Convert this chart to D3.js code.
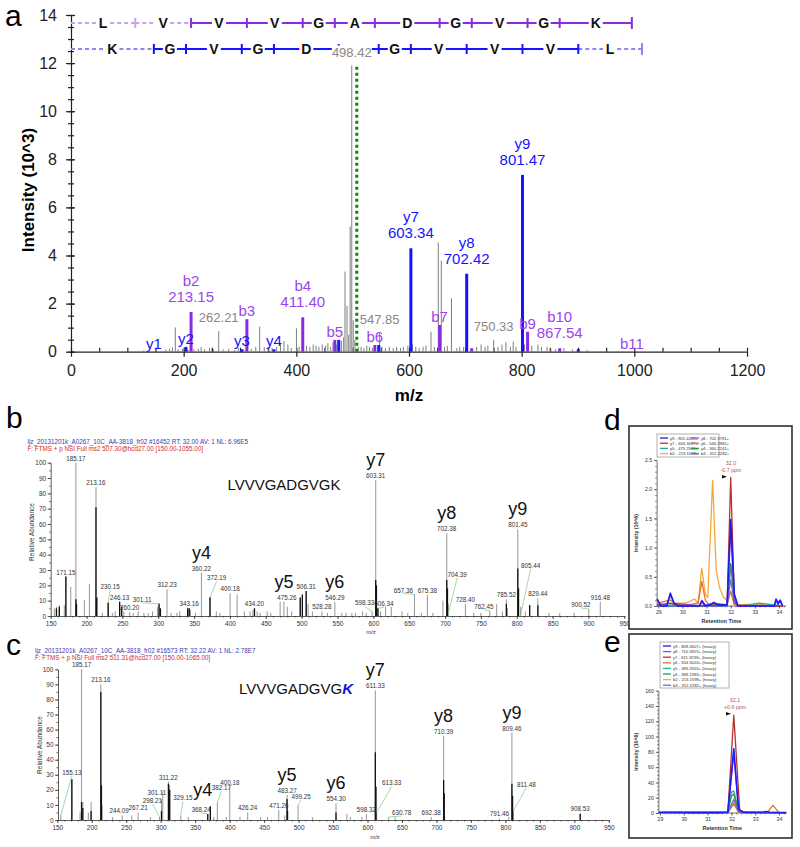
<!DOCTYPE html>
<html><head><meta charset="utf-8">
<script src="https://cdn.jsdelivr.net/npm/d3@7"></script>
<style>body{margin:0;background:#fff}svg{display:block}text{font-family:"Liberation Sans",Arial,sans-serif}</style>
</head><body><svg id="c" width="800" height="847"></svg>
<script>
// ================= DATA =================
// Panel a : sequence ladders (letters and fragment m/z boundaries)
const aSeqB=['L','V','V','V','G','A','D','G','V','G','K'];
const aSeqBMz=[0,114.09,213.16,312.23,411.30,468.32,539.36,654.39,711.41,810.48,867.50,995.6];
const aSeqBSolid=[0,0,1,1,1,1,1,1,1,1,1];
const aSeqY=['K','G','V','G','D','A','G','V','V','V','L'];
const aSeqYMz=[0,147.11,204.13,303.20,360.22,475.25,546.29,603.31,702.38,801.45,900.52,1013.6];
const aSeqYSolid=[0,1,1,1,1,1,1,1,1,1,0];
// Panel a : annotated ions [name, m/z, intensity(10^3), value label]
const aBIons=[['b2',213.15,1.65,'213.15'],['b3',312.23,1.35,''],['b4',411.40,1.43,'411.40'],['b5',468.32,0.49,''],
  ['b6',539.36,0.28,''],['b7',654.39,1.11,''],['',711.41,0.14,''],['b9',810.48,0.83,''],['b10',867.54,0.14,'867.54'],['b11',995.6,0,'']];
const aYIons=[['y1',147.11,0,''],['y2',204.13,0.2,''],['y3',303.20,0.1,''],['y4',360.22,0.1,''],['',475.25,0.49,''],
  ['',546.29,0.28,''],['y7',603.34,4.3,'603.34'],['y8',702.42,3.24,'702.42'],['y9',801.47,7.35,'801.47'],['',900.52,0.1,'']];
// Panel a : unassigned peaks [m/z, intensity]
const aGray=[[129,0.05],[168,0.08],[175,0.12],[180,0.18],[185.17,1.01],[190,0.1],[198,0.12],[208,0.08],[218,0.1],[226,0.12],
  [231,0.2],[237,0.1],[246,0.15],[253,0.1],[262.21,0.86],[270,0.1],[280,0.12],[290,0.08],[297,0.15],[307,0.1],[320,0.12],
  [328,0.2],[334.9,1.04],[343,0.2],[350,0.12],[357,0.15],[365,0.2],[372,0.35],[378,0.45],[385,0.3],[391,0.15],[400.18,0.97],
  [405,0.2],[418,0.25],[424,0.2],[430,0.3],[435,0.25],[440,0.2],[446,0.3],[452,0.25],[456,0.35],[461,0.2],[465,0.4],
  [471,0.3],[480,0.45],[484,0.6],[486.4,3.33],[490,1.9],[493,0.7],[495.5,5.2],[498.42,11.9],[501,1.3],[504,0.5],[510,0.2],
  [515,0.2],[520,0.15],[525,0.25],[530,0.2],[535,0.15],[547.85,0.77],[552,0.2],[558,0.15],[565,0.2],[572,0.15],[578,0.2],
  [585,0.15],[590,0.2],[598,0.25],[606,0.3],[612,0.2],[618,0.15],[625,0.2],[630,0.25],[639,0.83],[645,0.2],[652,4.54],
  [657.36,3.79],[663,0.2],[668,0.25],[675.38,2.22],[685,0.15],[690,0.2],[697,0.2],[710,0.15],[720,0.2],[728,0.3],[735,0.2],
  [740,0.25],[750.33,0.49],[758,0.2],[765,0.3],[772,0.4],[780,0.2],[785,0.42],[790,0.2],[805,0.3],[818,0.25],[829,0.3],
  [835,0.2],[845,0.2],[852,0.1],[860,0.1],[875,0.15],[890,0.1],[916,0.08]];
const aGrayLabels=['262.21','498.42','547.85','750.33'];
const aPrecursor=[507.30,11.9];
const aXTicks=[0,200,400,600,800,1000,1200];
const aYTicks=[0,2,4,6,8,10,12,14];

// Panel b : MS2 spectrum light peptide [m/z, relative abundance %]
const bLabeled=[[171.15,25.7],[185.17,100],[213.16,84],[230.15,8.7],[246.13,9.3],[260.20,2.5],[301.11,8],[312.23,17.4],
  [343.16,5],[360.22,28.3],[372.19,12.2],[400.18,14.8],[434.20,5],[475.26,9.3],[506.31,16.3],[528.28,3],[546.29,9.3],
  [598.33,3],[603.31,88.7],[606.34,5],[657.36,14],[675.38,14],[702.38,54],[704.39,8],[728.40,7.8],[762.45,3.5],
  [785.52,10.9],[801.45,56.5],[805.44,6],[829.44,11.5],[900.52,4.6],[916.48,9.3]];
const bOther=[[155,5],[158,6],[162,7],[169,7],[178,19],[197,10.4],[204,21],[215,12],[222,2],[236,2],[240,3],[249,6],
  [252,3],[265,2],[272,3],[280,2],[286,2],[292,3],[299,6],[303,5],[318,2],[326,2],[330,3],[341,5],[345,4],[352,2],
  [381,3],[386,2],[410,14],[420,3],[428,3],[432,4],[438,3],[442,2],[452,3],[457,2],[470,9.3],[480,6],[486,3],[498,12],
  [501,14],[509,8],[515,3],[536,2],[556,2],[562,2],[570,2],[575,2],[585,3],[590,2],[610,3],[617,6],[625,6],[640,3],
  [648,2],[667,2],[683,2],[697,10],[740,2],[750,2],[772,7.8],[780,3],[787,5],[812,3],[818,7],[845,2],[860,2],[880,2]];
const bBlack=[[158,5],[162,6],[171.15,25.7],[185.17,11],[186,8],[213.16,71],[214,12],[230.15,8.7],[246.13,9.3],[249,6],
  [301.11,8],[303,5],[341,5],[343.16,5],[372.19,12.2],[434.20,5],[498,12],[501,14],[506.31,16.3],[603.31,23.5],[604.3,20],
  [606.34,5],[702.38,23.5],[703.4,18],[785.52,8],[801.45,31],[802.5,18],[818,7],[829.44,7]];
const bIons=[['y4',360.22],['y5',475.26],['y6',546.29],['y7',603.31],['y8',702.38],['y9',801.45]];

// Panel c : MS2 spectrum heavy peptide
const cLabeled=[[155.13,3.3],[185.17,100],[213.16,90],[244.09,3],[267.21,5],[298.21,2],[301.11,14],[311.22,25.4],
  [329.15,3],[368.24,4],[382.17,11.7],[400.18,22],[426.24,5],[471.26,6.6],[483.27,16.6],[499.25,10],[554.30,11],
  [598.32,4],[611.33,86],[613.33,5],[630.78,2],[692.38,2],[710.39,55.8],[791.46,1],[809.46,58],[811.48,6],[908.53,4.9]];
const cOther=[[171.1,27],[183,5],[187,12],[195,5],[199,12],[215,10],[230,2],[258,3],[285,2],[303,19],[313,23],
  [340,2],[372,9],[377,2],[395,2],[415,2],[445,2],[455,2],[480,3],[520,2],[570,4],[575,2],[592,2],[640,2],[712,2],[805,2]];
const cBlack=[[171.1,27],[185.17,12],[187,8],[199,6],[213.16,85],[214,23],[301.11,6],[311.22,24],[313,20],[368.24,4],
  [372,9],[483.27,14],[484,6],[554.30,5],[611.33,45],[612.3,22],[710.39,26.5],[711.3,17.7],[809.46,24],[810.4,16],[908.53,4]];
const cIons=[['y4',368.24],['y5',483.27],['y6',554.30],['y7',611.33],['y8',710.39],['y9',809.46]];

// Panel d : XIC light transitions [retention time, intensity 10^6]
const dSeries=[
 ['b2 - 213.1598+','#f2a93b',[[28.95,0.08],[29.2,0.02],[29.5,0.0],[29.8,0.05],[30.1,0.05],[30.3,0.08],[30.5,0.12],[30.65,0.05],[30.8,0.65],[30.95,0.2],[31.05,0.15],[31.25,2.15],[31.4,0.6],[31.55,0.3],[31.7,0.15],[31.85,0.1],[32.0,0.25],[32.15,0.05],[32.4,0.02],[32.8,0.03],[33.1,0.05],[33.4,0.02],[33.8,0.0],[34.15,0.0]]],
 ['y6 - 546.2882+','#e0762a',[[28.95,0.05],[29.5,0.1],[29.8,0.02],[30.4,0.03],[30.65,0.05],[30.8,0.42],[30.95,0.1],[31.1,0.02],[31.85,0.02],[32.0,0.25],[32.15,0.02],[33.0,0.02],[34.15,0.0]]],
 ['y5 - 475.2511+','#2aa9a9',[[28.95,0.02],[31.85,0.0],[32.0,0.7],[32.15,0.2],[32.3,0.0],[32.9,0.02],[33.2,0.05],[34.15,0.0]]],
 ['y4 - 360.2241+','#2d9a3a',[[28.95,0.0],[31.85,0.0],[32.0,0.73],[32.15,0.05],[32.3,0.0],[34.15,0.0]]],
 ['b3 - 312.2282+','#6b6bd6',[[28.95,0.0],[31.85,0.0],[32.0,0.45],[32.15,0.05],[32.3,0.0],[34.15,0.0]]],
 ['y7 - 603.3097+','#b5332c',[[28.95,0.02],[29.5,0.05],[30.0,0.0],[31.85,0.02],[32.0,2.2],[32.15,0.1],[32.3,0.0],[34.15,0.0]]],
 ['y8 - 702.3781+','#9146ee',[[28.95,0.1],[29.1,0.02],[29.35,0.02],[29.5,0.18],[29.65,0.05],[30.7,0.0],[30.8,0.1],[30.95,0.02],[31.3,0.05],[31.85,0.02],[32.0,1.3],[32.15,0.1],[32.3,0.0],[33.8,0.0],[33.88,0.08],[34.05,0.08],[34.15,0.0]]],
 ['y9 - 801.4465+','#1b1bf5',[[28.95,0.12],[29.1,0.0],[29.35,0.0],[29.5,0.22],[29.65,0.05],[29.8,0.0],[30.7,0.0],[30.8,0.08],[30.95,0.0],[31.15,0.02],[31.3,0.06],[31.45,0.02],[31.85,0.02],[32.0,1.48],[32.15,0.2],[32.3,0.0],[33.8,0.0],[33.88,0.12],[33.96,0.03],[34.05,0.1],[34.15,0.0]]]
];
const dLegendOrder=['y9 - 801.4465+','y8 - 702.3781+','y7 - 603.3097+','y6 - 546.2882+','y5 - 475.2511+','y4 - 360.2241+','b2 - 213.1598+','b3 - 312.2282+'];
// Panel e : XIC heavy transitions
const eSeries=[
 ['b2 - 213.1598+ (heavy)','#f2a93b',[[28.95,0.5],[31.85,0.5],[32.1,15],[32.3,2],[32.5,0.5],[34.3,0.5]]],
 ['y6 - 554.3024+ (heavy)','#e0762a',[[28.95,0.5],[31.85,0.5],[32.1,12],[32.3,1],[33.5,0.5],[33.75,10],[34.0,0.5],[34.3,0.5]]],
 ['y5 - 483.2653+ (heavy)','#2aa9a9',[[28.95,0.5],[31.85,1],[32.0,27],[32.1,29],[32.3,3],[32.5,0.5],[34.3,0.5]]],
 ['y4 - 368.2383+ (heavy)','#2d9a3a',[[28.95,0.5],[31.85,1],[32.0,22],[32.1,25],[32.3,2],[32.5,0.5],[34.3,0.5]]],
 ['b3 - 312.2282+ (heavy)','#6b6bd6',[[28.95,0.5],[31.85,0.5],[32.1,18],[32.3,2],[32.5,0.5],[34.3,0.5]]],
 ['y7 - 611.3239+ (heavy)','#b5332c',[[28.95,0.5],[31.85,1],[32.1,128],[32.35,3],[32.6,0.5],[34.3,0.5]]],
 ['y8 - 710.3923+ (heavy)','#9146ee',[[28.95,0.8],[31.85,1],[32.1,78],[32.3,4],[32.5,1],[34.3,0.5]]],
 ['y9 - 809.4607+ (heavy)','#1b1bf5',[[28.95,1],[29.5,1],[30.5,0.5],[31.5,0.5],[31.85,1],[32.1,84],[32.3,5],[32.5,1],[33.3,1],[33.45,2],[33.6,1],[34.3,0.5]]]
];
const eLegendOrder=['y9 - 809.4607+ (heavy)','y8 - 710.3923+ (heavy)','y7 - 611.3239+ (heavy)','y6 - 554.3024+ (heavy)','y5 - 483.2653+ (heavy)','y4 - 368.2383+ (heavy)','b2 - 213.1598+ (heavy)','b3 - 312.2282+ (heavy)'];

// ================= DRAW =================
const svg=d3.select('#c');
const PURPLE='#8a2be2', PURPLE_T='#9b45ee', BLUE='#1414ff', LPURPLE='#c7a3f2', LBLUE='#8a8af5', GRAY='#7f7f7f';

// ---------- Panel a ----------
(function(){
  const g=svg.append('g');
  const x=d3.scaleLinear().domain([0,1200]).range([71,747]);
  const y=d3.scaleLinear().domain([0,14]).range([351.7,15]);
  g.append('g').attr('transform','translate(0,351.7)')
    .call(d3.axisBottom(x).tickValues(aXTicks).tickSize(5).tickSizeOuter(0).tickPadding(8).tickFormat(d3.format('d')));
  g.append('g').attr('transform','translate(0,351.7)')
    .call(d3.axisTop(x).tickValues(d3.range(0,1201,50)).tickSize(4).tickFormat('')).select('.domain').remove();
  g.append('g').attr('transform','translate(71,0)')
    .call(d3.axisLeft(y).tickValues(aYTicks).tickSize(5).tickSizeOuter(0).tickPadding(9));
  g.append('g').attr('transform','translate(71,0)')
    .call(d3.axisRight(y).tickValues(aYTicks).tickSize(4).tickFormat('')).select('.domain').remove();
  g.append('g').attr('transform','translate(71,0)')
    .call(d3.axisLeft(y).tickValues(d3.range(0,14.1,0.5)).tickSize(3).tickFormat('')).select('.domain').remove();
  g.append('g').attr('transform','translate(71,0)')
    .call(d3.axisRight(y).tickValues(d3.range(0,14.1,0.5)).tickSize(3).tickFormat('')).select('.domain').remove();
  g.selectAll('.tick text').attr('font-size',16).attr('font-family','Liberation Sans,Arial').attr('fill','#222');
  g.selectAll('.domain,.tick line').attr('stroke','#222').attr('stroke-width',1.2);
  g.append('text').attr('x',409).attr('y',401).attr('text-anchor','middle').attr('font-size',17).attr('font-weight','bold').text('m/z');
  g.append('text').attr('transform','translate(34,190) rotate(-90)').attr('text-anchor','middle').attr('font-size',17).attr('font-weight','bold').text('Intensity (10^3)');
  g.append('text').attr('x',5).attr('y',26).attr('font-size',30).text('a');

  g.selectAll('.gp').data(aGray).join('line').attr('x1',d=>x(d[0])).attr('x2',d=>x(d[0]))
    .attr('y1',y(0)).attr('y2',d=>y(d[1])).attr('stroke',GRAY).attr('stroke-width',1);
  g.append('line').attr('x1',x(aPrecursor[0])).attr('x2',x(aPrecursor[0])).attr('y1',y(0)).attr('y2',y(aPrecursor[1]))
    .attr('stroke','#0a8a0a').attr('stroke-width',3).attr('stroke-dasharray','3,3');
  const ions=aBIons.map(d=>({n:d[0],mz:d[1],I:d[2],v:d[3],c:PURPLE,t:PURPLE_T})).concat(aYIons.map(d=>({n:d[0],mz:d[1],I:d[2],v:d[3],c:BLUE,t:BLUE})));
  g.selectAll('.ib').data(ions.filter(d=>d.I>0)).join('line').attr('x1',d=>x(d.mz)).attr('x2',d=>x(d.mz))
    .attr('y1',y(0)).attr('y2',d=>y(d.I)).attr('stroke',d=>d.c).attr('stroke-width',3);
  ions.filter(d=>d.n).forEach(d=>{
    const top=y(d.I);
    if(d.v){
      g.append('text').attr('x',x(d.mz)).attr('y',top-10).attr('text-anchor','middle').attr('font-size',15).attr('fill',d.t).text(d.v);
      g.append('text').attr('x',x(d.mz)).attr('y',top-26).attr('text-anchor','middle').attr('font-size',15).attr('fill',d.t).text(d.n);
    } else {
      g.append('text').attr('x',x(d.mz)).attr('y',top-3).attr('text-anchor','middle').attr('font-size',15).attr('fill',d.t).text(d.n);
    }
  });

  const pk=aGray.find(d=>d[0].toFixed(2)==='498.42');
  const covX=[x(pk[0])-20,x(pk[0])+20];
  function ladder(seq,mz,solid,yy,cs,cl,cover){
    for(let i=0;i<seq.length;i++){
      const x0=x(mz[i]),x1=x(mz[i+1]),xm=(x0+x1)/2;
      const col=solid[i]?cs:cl;
      const hidden=cover && xm>covX[0] && xm<covX[1];
      const segs=hidden?[[x0,x1]]:[[x0,xm-7],[xm+7,x1]];
      segs.forEach(s=>{
        g.append('line').attr('x1',s[0]).attr('x2',s[1]).attr('y1',yy).attr('y2',yy).attr('stroke',col)
          .attr('stroke-width',2).attr('stroke-dasharray',solid[i]?null:'4,3');
      });
      if(!hidden) g.append('text').attr('x',xm).attr('y',yy+5).attr('text-anchor','middle').attr('font-size',14).attr('font-weight','bold').attr('fill','#111').text(seq[i]);
      if(i>0){ const tc=(solid[i]||solid[i-1])?cs:cl;
        g.append('line').attr('x1',x0).attr('x2',x0).attr('y1',yy-5).attr('y2',yy+5).attr('stroke',tc).attr('stroke-width',2);}
    }
    const xe=x(mz[mz.length-1]);
    g.append('line').attr('x1',xe).attr('x2',xe).attr('y1',yy-6).attr('y2',yy+6).attr('stroke',solid[seq.length-1]?cs:cl).attr('stroke-width',2);
  }
  ladder(aSeqB,aSeqBMz,aSeqBSolid,23,PURPLE,LPURPLE,false);
  ladder(aSeqY,aSeqYMz,aSeqYSolid,49,BLUE,LBLUE,true);
  aGrayLabels.forEach(s=>{
    const p=aGray.find(d=>d[0].toFixed(2)===s);
    const tx=x(p[0]), ty=y(p[1])-9;
    if(s==='498.42'){ g.append('rect').attr('x',tx-20).attr('y',ty-11).attr('width',40).attr('height',14).attr('fill','#fff'); }
    g.append('text').attr('x',tx).attr('y',ty).attr('text-anchor','middle').attr('font-size',13).attr('fill','#888').text(s);
  });
})();

// ---------- Panels b & c ----------
function spectrum(o){
  const g=svg.append('g');
  const x=d3.scaleLinear().domain([150,950]).range([o.x0,o.x1]);
  const y=d3.scaleLinear().domain([0,100]).range([o.y0,o.y100]);
  g.append('g').attr('transform',`translate(0,${o.y0})`)
    .call(d3.axisBottom(x).tickValues(d3.range(150,951,50)).tickSize(3).tickSizeOuter(0).tickPadding(2));
  g.append('g').attr('transform',`translate(0,${o.y0})`)
    .call(d3.axisBottom(x).tickValues(d3.range(150,951,10)).tickSize(1.5).tickFormat('')).select('.domain').remove();
  g.append('g').attr('transform',`translate(${o.ax},0)`)
    .call(d3.axisLeft(y).tickValues(d3.range(0,101,10)).tickSize(3).tickSizeOuter(0).tickPadding(1.5));
  g.append('g').attr('transform',`translate(${o.ax},0)`)
    .call(d3.axisLeft(y).tickValues(d3.range(0,101,5)).tickSize(1.5).tickFormat('')).select('.domain').remove();
  g.selectAll('.tick text').attr('font-size',6.5).attr('fill','#333');
  g.selectAll('.domain,.tick line').attr('stroke','#333').attr('stroke-width',0.8);
  g.append('text').attr('transform',`translate(${o.ylx},${o.yly}) rotate(-90)`).attr('text-anchor','middle').attr('font-size',6.5).attr('fill','#333').text('Relative Abundance');
  g.append('text').attr('x',o.mzx).attr('y',o.mzy).attr('text-anchor','middle').attr('font-size',6).attr('fill','#333').text('m/z');
  g.append('text').attr('x',o.hx).attr('y',o.hy).attr('font-size',6.3).attr('fill','#3b3bb0').text(o.h1);
  g.append('text').attr('x',o.hx).attr('y',o.hy+7.2).attr('font-size',6.3).attr('fill','#d42a2a').text(o.h2);
  g.append('text').attr('x',o.lx).attr('y',o.ly).attr('font-size',30).text(o.letter);
  const all=o.lab.concat(o.other);
  g.selectAll('.p').data(all).join('line').attr('x1',d=>x(d[0])).attr('x2',d=>x(d[0]))
    .attr('y1',y(0)).attr('y2',d=>y(d[1])).attr('stroke','#8a8a8a').attr('stroke-width',0.9);
  g.selectAll('.k').data(o.black).join('line').attr('x1',d=>x(d[0])).attr('x2',d=>x(d[0]))
    .attr('y1',y(0)).attr('y2',d=>y(d[1])).attr('stroke','#111').attr('stroke-width',1.3);
  o.lab.forEach(d=>{
    const s=d[0].toFixed(2); const n=o.nudge[s]||[0,0];
    const px=x(d[0]), py=y(d[1]);
    const tx=px+n[0], ty=py-2+n[1];
    if(Math.abs(n[1])>3||Math.abs(n[0])>5)
      g.append('line').attr('x1',tx).attr('y1',ty+1).attr('x2',px).attr('y2',py+(n[2]||0)).attr('stroke','#6cbf6c').attr('stroke-width',0.6);
    g.append('text').attr('x',tx).attr('y',ty).attr('text-anchor','middle').attr('font-size',6.3).attr('fill','#333').text(s);
  });
  o.ions.forEach(d=>{
    const p=o.lab.find(q=>q[0]===d[1]);
    const n=(o.ionNudge&&o.ionNudge[d[0]])||[0,0];
    g.append('text').attr('x',x(d[1])+n[0]).attr('y',y(p[1])-14+n[1]).attr('text-anchor','middle').attr('font-family','Lato,"Open Sans",sans-serif').attr('font-size',18).attr('fill','#111').text(d[0]);
  });
  const t=g.append('text').attr('x',o.sx).attr('y',o.sy).attr('text-anchor','middle').attr('font-family','Lato,"Open Sans",sans-serif').attr('font-size',15).attr('fill','#111');
  t.append('tspan').text(o.seq);
  if(o.heavy) t.append('tspan').attr('fill','#1414e0').attr('font-weight','bold').attr('font-style','italic').text(o.heavy);
}
spectrum({x0:50.7,x1:624.3,y0:616,y100:462.7,ax:50.7,lab:bLabeled,other:bOther,black:bBlack,ions:bIons,
  ylx:33.5,yly:532,mzx:371,mzy:634,hx:27.5,hy:443.5,letter:'b',lx:6,ly:428,sx:284,sy:490,seq:'LVVVGADGVGK',heavy:'',
  h1:'ljz_20131201k_A0267_10C_AA-3818_fr02 #16452  RT: 32.00  AV: 1  NL: 6.96E5',
  h2:'F: FTMS + p NSI Full ms2 507.30@hcd27.00 [150.00-1055.00]',
  nudge:{'230.15':[2,-12],'301.11':[-17,0,0],'372.19':[6.6,-15],'598.33':[-7.6,-4],'657.36':[-11,0],'704.39':[9,-25,10],
   '805.44':[10,-37,8],'762.45':[-6,0],'900.52':[-8,0],'606.34':[6,0],'475.26':[3,0]}});
spectrum({x0:57.3,x1:608.8,y0:820,y100:669.3,ax:58,lab:cLabeled,other:cOther,black:cBlack,ions:cIons,
  ylx:42,yly:745,mzx:375,mzy:839,hx:35,hy:652.5,letter:'c',lx:6,ly:655,sx:296,sy:694,seq:'LVVVGADGVG',heavy:'K',
  h1:'ljz_20131201k_A0267_10C_AA-3818_fr02 #16573  RT: 32.22  AV: 1  NL: 2.78E7',
  h2:'F: FTMS + p NSI Full ms2 511.31@hcd27.00 [150.00-1065.00]',
  ionNudge:{'y4':[-5,-4]},
  nudge:{'155.13':[11,-38,0],'244.09':[-3,0],'298.21':[-7,-12,0],'301.11':[-4.6,-2],'329.15':[2,-13,0],'368.24':[-6.6,0],
   '382.17':[4,-10],'499.25':[3,-4],'613.33':[15,-25,0],'630.78':[13,0],'811.48':[13,-22,0]}});

// ---------- Panels d & e ----------
function xic(o){
  const g=svg.append('g');
  g.append('rect').attr('x',o.bx).attr('y',o.by).attr('width',o.bw).attr('height',o.bh).attr('fill','#fff').attr('stroke','#222').attr('stroke-width',1.5);
  g.append('text').attr('x',o.lx).attr('y',o.ly).attr('font-size',30).text(o.letter);
  const x=d3.scaleLinear().domain([29,34]).range([o.x29,o.x34]);
  const y=d3.scaleLinear().domain([0,o.ymax]).range([o.y0,o.yTop]);
  const xd=[28.93,34.3];
  g.append('g').attr('transform',`translate(0,${o.y0})`)
    .call(d3.axisBottom(x).tickValues(d3.range(29,34.01,1)).tickSize(2.5).tickSizeOuter(0).tickPadding(2).tickFormat(d3.format('d')))
    .select('.domain').attr('d',`M${x(xd[0])},0H${x(xd[1])}`);
  g.append('g').attr('transform',`translate(0,${o.y0})`)
    .call(d3.axisBottom(x).tickValues(d3.range(29,34.3,0.2)).tickSize(1.3).tickFormat('')).select('.domain').remove();
  g.append('g').attr('transform',`translate(${x(xd[0])},0)`)
    .call(d3.axisLeft(y).tickValues(o.yticks).tickSize(2.5).tickSizeOuter(0).tickPadding(2).tickFormat(o.fmt));
  g.append('g').attr('transform',`translate(${x(xd[0])},0)`)
    .call(d3.axisLeft(y).tickValues(o.yminor).tickSize(1.3).tickFormat('')).select('.domain').remove();
  g.selectAll('.tick text').attr('font-size',5.2).attr('fill','#333');
  g.selectAll('.domain,.tick line').attr('stroke','#333').attr('stroke-width',0.7);
  g.append('text').attr('transform',`translate(${o.bx+9},${(o.y0+o.yTop)/2}) rotate(-90)`).attr('text-anchor','middle').attr('font-size',5.2).attr('font-weight','bold').attr('fill','#333').text('Intensity (10^6)');
  g.append('text').attr('x',(x(xd[0])+x(xd[1]))/2).attr('y',o.y0+17).attr('text-anchor','middle').attr('font-size',5.5).attr('font-weight','bold').attr('fill','#333').text('Retention Time');
  const line=d3.line().x(d=>x(d[0])).y(d=>y(d[1]));
  o.series.forEach(s=>{
    g.append('path').attr('d',line(s[2])).attr('fill','none').attr('stroke',s[1]).attr('stroke-width',s[0].startsWith('y9')?1.6:1.3).attr('stroke-linejoin','round');
  });
  g.append('rect').attr('x',o.lgx).attr('y',o.lgy).attr('width',o.lgw).attr('height',o.lgh).attr('fill','#fff').attr('stroke','#666').attr('stroke-width',0.5);
  o.order.forEach((nm,i)=>{
    const s=o.series.find(q=>q[0]===nm);
    const col=o.cols===2? i%2 : 0, row=o.cols===2? Math.floor(i/2) : i;
    const lx=o.lgx+3+col*31, ly=o.lgy+4+row*o.rowH;
    g.append('line').attr('x1',lx).attr('x2',lx+8).attr('y1',ly).attr('y2',ly).attr('stroke',s[1]).attr('stroke-width',1.3);
    g.append('text').attr('x',lx+10).attr('y',ly+1.5).attr('font-size',4.2).attr('fill','#333').text(nm);
  });
  g.append('text').attr('x',o.ax).attr('y',o.ay).attr('text-anchor','middle').attr('font-size',5.3).attr('fill','#c0504d').text(o.a1);
  g.append('text').attr('x',o.ax).attr('y',o.ay+6.5).attr('text-anchor','middle').attr('font-size',5.3).attr('fill','#c0504d').text(o.a2);
  g.append('path').attr('d',`M${o.ax-9},${o.ay+10}l5,1.8l-5,1.8z`).attr('fill','#111');
}
xic({bx:629,by:426,bw:163,bh:203,letter:'d',lx:604,ly:430,x29:658.3,x34:779,ymax:2.5,y0:606,yTop:460,
  yticks:[0,0.5,1,1.5,2,2.5],yminor:d3.range(0,2.51,0.1),fmt:d3.format('.1f'),series:dSeries,order:dLegendOrder,
  cols:2,lgx:657,lgy:434,lgw:62,lgh:23,rowH:5.2,ax:731,ay:465,a1:'32.0',a2:'-0.7 ppm'});
xic({bx:629,by:634,bw:163,bh:204,letter:'e',lx:604,ly:652,x29:660,x34:779,ymax:160,y0:813,yTop:690.7,
  yticks:d3.range(0,161,20),yminor:d3.range(0,161,5),fmt:d3.format('d'),series:eSeries,order:eLegendOrder,
  cols:1,lgx:660,lgy:642,lgw:69,lgh:46,rowH:5.6,ax:735,ay:702,a1:'32.1',a2:'+0.6 ppm'});
</script></body></html>
